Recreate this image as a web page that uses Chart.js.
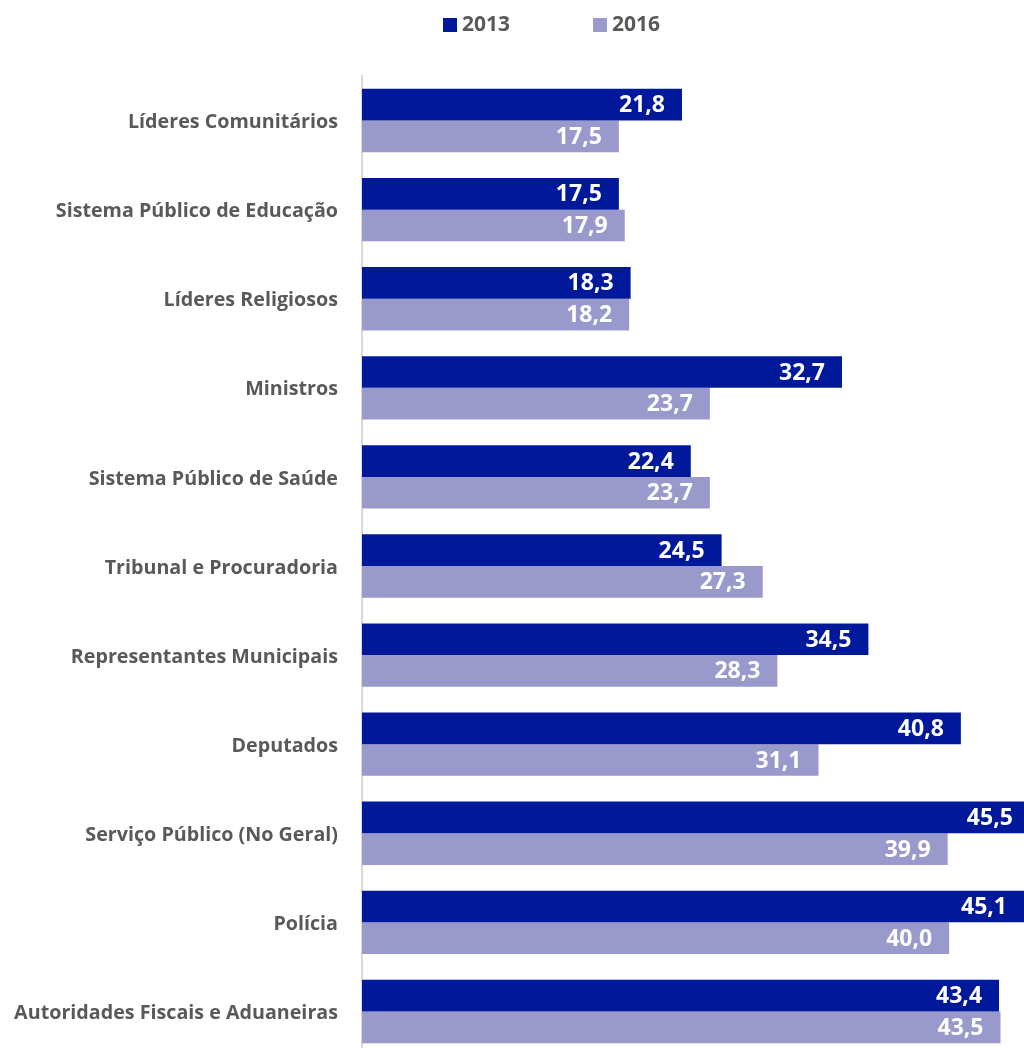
<!DOCTYPE html>
<html lang="pt">
<head>
<meta charset="utf-8">
<title>2013 x 2016</title>
<script src="https://cdn.jsdelivr.net/npm/chart.js@4.4.1/dist/chart.umd.min.js"></script>
<style>
  html, body { margin: 0; padding: 0; background: #fff; overflow: hidden; }
  #wrap { position: relative; width: 1024px; height: 1056px; }
</style>
</head>
<body>
<div id="wrap"><canvas id="myChart"></canvas></div>
<script>
// Categorias (de cima para baixo) e valores de cada ano
const categories = [
    'Líderes Comunitários',
    'Sistema Público de Educação',
    'Líderes Religiosos',
    'Ministros',
    'Sistema Público de Saúde',
    'Tribunal e Procuradoria',
    'Representantes Municipais',
    'Deputados',
    'Serviço Público (No Geral)',
    'Polícia',
    'Autoridades Fiscais e Aduaneiras'
];
const values2013 = [21.8, 17.5, 18.3, 32.7, 22.4, 24.5, 34.5, 40.8, 45.5, 45.1, 43.4];
const values2016 = [17.5, 17.9, 18.2, 23.7, 23.7, 27.3, 28.3, 31.1, 39.9, 40.0, 43.5];
const seriesNames = ['2013', '2016'];

const colorDark = '#00189A';
const colorLight = '#9999CC';
const textGrey = '#595959';
const fontFamily = "'Open Sans', 'DejaVu Sans', sans-serif";

// Número com vírgula decimal
const fmt = v => v.toFixed(1).replace('.', ',');

// Rótulos brancos dentro da ponta de cada barra
const valueLabels = {
    id: 'valueLabels',
    afterDatasetsDraw(chart) {
        const ctx = chart.ctx;
        ctx.save();
        ctx.font = `bold 23px ${fontFamily}`;
        ctx.fillStyle = '#ffffff';
        ctx.textAlign = 'right';
        ctx.textBaseline = 'middle';
        chart.data.datasets.forEach((ds, i) => {
            chart.getDatasetMeta(i).data.forEach((bar, j) => {
                ctx.fillText(fmt(ds.data[j]), bar.x - 17, bar.y + 1);
            });
        });
        ctx.restore();
    }
};

// Legenda no topo: quadradinho colorido + ano
const topLegend = {
    id: 'topLegend',
    afterDraw(chart) {
        const ctx = chart.ctx;
        const startX = [443, 593];
        ctx.save();
        ctx.font = `bold 21px ${fontFamily}`;
        ctx.textBaseline = 'middle';
        ctx.textAlign = 'left';
        chart.data.datasets.forEach((ds, i) => {
            ctx.fillStyle = ds.backgroundColor;
            ctx.fillRect(startX[i], 18, 14, 14);
            ctx.fillStyle = textGrey;
            ctx.fillText(ds.label, startX[i] + 19, 25);
        });
        ctx.restore();
    }
};

const canvas = document.getElementById('myChart');

new Chart(canvas, {
    type: 'bar',
    data: {
        labels: categories,
        datasets: [{
            label: seriesNames[0],
            data: values2013,
            backgroundColor: colorDark
        }, {
            label: seriesNames[1],
            data: values2016,
            backgroundColor: colorLight
        }]
    },
    options: {
        indexAxis: 'y',
        animation: false,
        responsive: true,
        maintainAspectRatio: false,
        categoryPercentage: 0.711,
        barPercentage: 1,
        layout: {
            padding: { top: 76, right: 0, bottom: 0, left: 0 }
        },
        scales: {
            x: {
                display: false,
                min: 0,
                max: 45.1
            },
            y: {
                grid: { display: false, drawTicks: false },
                border: { display: true, color: '#D9D9D9', width: 2 },
                ticks: {
                    color: textGrey,
                    padding: 24,
                    labelOffset: 2,
                    font: { family: fontFamily, size: 19.7, weight: 'bold' }
                },
                afterFit(scale) {
                    // largura fixa da coluna de rótulos, sem margem extra em cima/embaixo
                    scale.width = 362;
                    scale.paddingTop = 0;
                    scale.paddingBottom = 0;
                }
            }
        },
        plugins: {
            legend: { display: false },
            tooltip: { enabled: false }
        }
    },
    plugins: [valueLabels, topLegend]
});
</script>
</body>
</html>
